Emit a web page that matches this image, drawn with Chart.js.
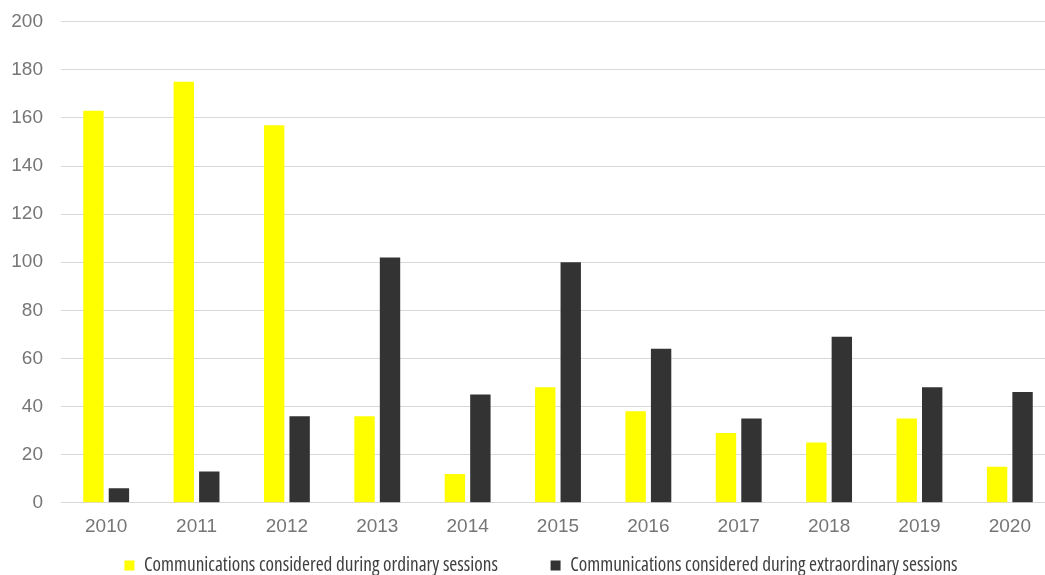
<!DOCTYPE html>
<html>
<head>
<meta charset="utf-8">
<script src="https://cdn.jsdelivr.net/npm/chart.js@4.4.1/dist/chart.umd.min.js"></script>
<style>
  html, body { margin: 0; padding: 0; overflow: hidden; background: #fff; }
  #wrap { position: relative; width: 1082px; height: 575px; }
</style>
</head>
<body>
<div id="wrap"><canvas id="c"></canvas></div>
<script>
const categories = ["2010","2011","2012","2013","2014","2015","2016","2017","2018","2019","2020"];
const ordinarySessions = [163, 175, 157, 36, 12, 48, 38, 29, 25, 35, 15];
const extraordinarySessions = [6, 13, 36, 102, 45, 100, 64, 35, 69, 48, 46];
const yTicks = [0, 20, 40, 60, 80, 100, 120, 140, 160, 180, 200];
const seriesNames = ["Communications considered during ordinary sessions",
                     "Communications considered during extraordinary sessions"];

const tickFont = { family: "'Liberation Sans', Arial, sans-serif", size: 19 };
const legendFont = { family: "'Open Sans', sans-serif", size: 19.25, weight: 'condensed' };

new Chart(document.getElementById('c'), {
  type: 'bar',
  data: {
    labels: categories,
    datasets: [
      { label: seriesNames[0], data: ordinarySessions,
        backgroundColor: '#FFFF00', barPercentage: 0.8, categoryPercentage: 0.564 },
      { label: seriesNames[1], data: extraordinarySessions,
        backgroundColor: '#333333', barPercentage: 0.8, categoryPercentage: 0.564 }
    ]
  },
  options: {
    responsive: true,
    maintainAspectRatio: false,
    animation: false,
    layout: { padding: { left: 0, right: 0, top: 21.7, bottom: -10 } },
    plugins: {
      tooltip: { enabled: false },
      legend: {
        position: 'bottom',
        labels: {
          boxWidth: 10, boxHeight: 10, padding: 17,
          color: '#404040', font: legendFont,
          generateLabels: (chart) => {
            const items = Chart.defaults.plugins.legend.labels.generateLabels(chart);
            items.forEach((it, i) => { if (i === 0) it.text = it.text + '          '; });
            return items;
          }
        }
      }
    },
    scales: {
      x: {
        grid: { display: false, drawTicks: false },
        border: { display: true, color: '#d9d9d9', width: 1 },
        ticks: { color: '#767676', font: tickFont, padding: 13, maxRotation: 0 },
        afterFit: (s) => { s.height = 36; }
      },
      y: {
        min: 0, max: 200,
        afterBuildTicks: (s) => { s.ticks = yTicks.map(v => ({ value: v })); },
        afterFit: (s) => { s.width = 61; s.paddingTop = 0; s.paddingBottom = 0; },
        grid: { color: '#d9d9d9', drawTicks: false, lineWidth: 1 },
        border: { display: false },
        ticks: { color: '#767676', font: tickFont, padding: 18 }
      },
      yR: {
        position: 'right',
        display: true,
        grid: { display: false, drawTicks: false },
        border: { display: false },
        ticks: { display: false },
        afterFit: (s) => { s.width = 27; s.paddingTop = 0; s.paddingBottom = 0; }
      }
    }
  }
});
</script>
</body>
</html>
